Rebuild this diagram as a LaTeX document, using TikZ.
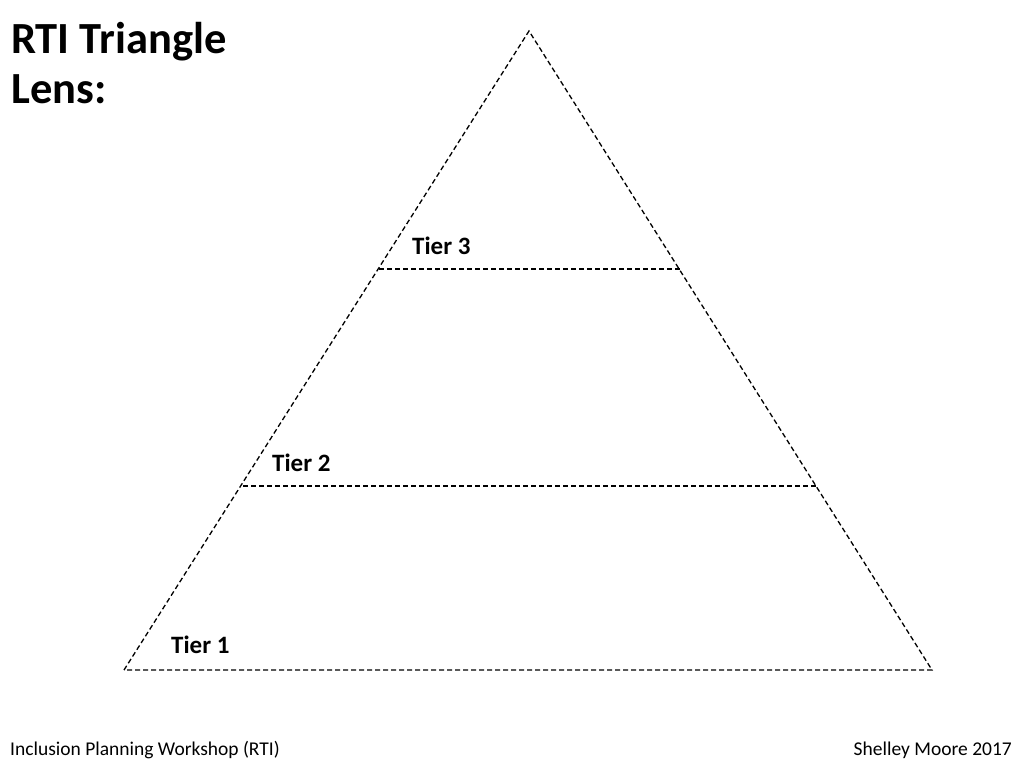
\documentclass[tikz,border=0pt]{standalone}
\usepackage{fontspec}
\setmainfont{Carlito}
\usetikzlibrary{positioning}
\tikzstyle{tier_line} = [
    draw=black,
    line width=1.3pt,
    dash pattern=on 5pt off 3pt
]
\tikzstyle{tier_label} = [
    anchor=base west,
    font=\fontsize{25}{30}\selectfont\bfseries,
    inner sep=0pt
]
\tikzstyle{title_text} = [
    anchor=base west,
    font=\fontsize{44.5}{52}\selectfont\bfseries,
    inner sep=0pt
]
\tikzstyle{footer_text} = [
    font=\fontsize{19.5}{23}\selectfont,
    inner sep=0pt
]
\begin{document}
\begin{tikzpicture}[x=1pt, y=-1pt]
\useasboundingbox (0,0) rectangle (1024,768);
% triangle corners
\coordinate (apex) at (529,31);
\coordinate (base_left) at (124,670);
\coordinate (base_right) at (932,670);
% tier boundaries
\coordinate (t3_left) at (379,269);
\coordinate (t3_right) at (680,269);
\coordinate (t2_left) at (243,486);
\coordinate (t2_right) at (817,486);

\draw [tier_line] (base_left) -- (apex) -- (base_right) -- cycle;
\draw [tier_line] (t3_left) -- (t3_right);
\draw [tier_line] (t2_left) -- (t2_right);

\node [tier_label] (tier3) at (412,254) {Tier 3};
\node [tier_label] (tier2) at (272,471) {Tier 2};
\node [tier_label] (tier1) at (171,653) {Tier 1};

\node [title_text] (title) at (11,53) {RTI Triangle};
\node [title_text] (lens) at (11,103) {Lens:};

\node [footer_text, anchor=base west] (workshop) at (10,755) {Inclusion Planning Workshop (RTI)};
\node [footer_text, anchor=base east] (credit) at (1012,755) {Shelley Moore 2017};
\end{tikzpicture}
\end{document}
